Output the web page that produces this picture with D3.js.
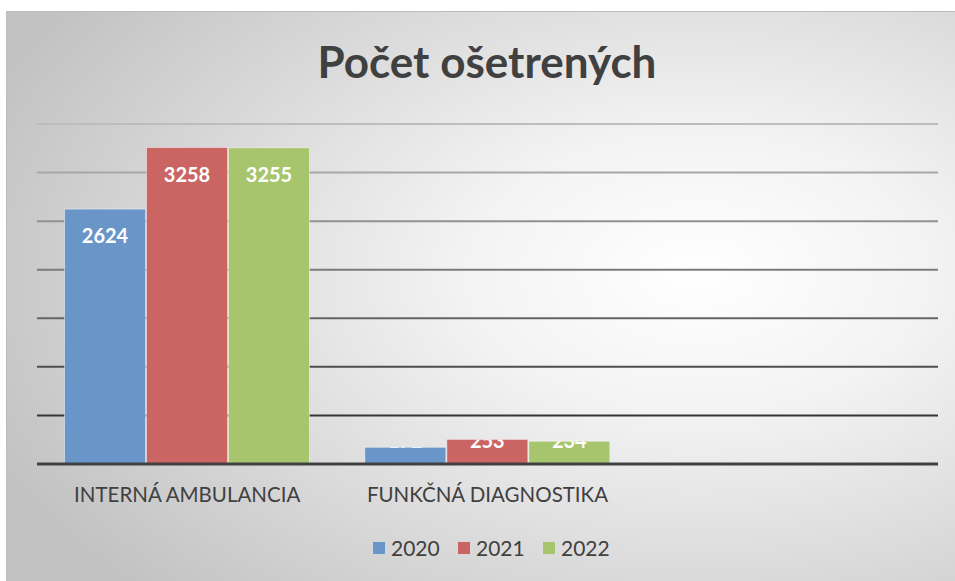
<!DOCTYPE html>
<html>
<head>
<meta charset="utf-8">
<script src="https://cdn.jsdelivr.net/npm/d3@7"></script>
<style>
  body { margin: 0; background: #fff; }
  text { font-family: Lato, "Open Sans", sans-serif; }
</style>
</head>
<body>
<svg class="chart" width="955" height="581"></svg>
<script>
// data
var categories = ['INTERNÁ AMBULANCIA', 'FUNKČNÁ DIAGNOSTIKA', ''];
var years = ['2020', '2021', '2022'];
var values2020 = [2624, 172, null];
var values2021 = [3258, 253, null];
var values2022 = [3255, 234, null];
var yTicks = [0, 500, 1000, 1500, 2000, 2500, 3000, 3500];

var colors = d3.scaleOrdinal().domain(years).range(['#6a95c9', '#cb6563', '#a7c56c']);

var series = [values2020, values2021, values2022];
var data = [];
categories.forEach(function(c, i) {
  years.forEach(function(yr, j) {
    if (series[j][i] != null) data.push({ cat: c, year: yr, value: series[j][i] });
  });
});

var svg = d3.select('.chart');
var defs = svg.append('defs');

var bg = defs.append('radialGradient').attr('id', 'bg')
    .attr('cx', '72%').attr('cy', '45%').attr('r', '80%');
bg.append('stop').attr('offset', '0').attr('stop-color', '#ffffff');
bg.append('stop').attr('offset', '0.3').attr('stop-color', '#f3f3f3');
bg.append('stop').attr('offset', '1').attr('stop-color', '#c2c2c2');

var plot = { left: 37, right: 938, top: 124, bottom: 464 };

var gl = defs.append('linearGradient').attr('id', 'gridgrad')
    .attr('gradientUnits', 'userSpaceOnUse')
    .attr('x1', 0).attr('x2', 0).attr('y1', plot.top).attr('y2', plot.bottom);
gl.append('stop').attr('offset', '0').attr('stop-color', '#bdbdbd');
gl.append('stop').attr('offset', '0.5').attr('stop-color', '#707070');
gl.append('stop').attr('offset', '1').attr('stop-color', '#1e1e1e');

// frame
svg.append('rect')
    .attr('x', 6.5).attr('y', 11.5).attr('width', 960).attr('height', 580)
    .attr('fill', 'url(#bg)').attr('stroke', '#bcbcbc');

// title
svg.append('text')
    .attr('x', 487).attr('y', 78)
    .attr('text-anchor', 'middle')
    .attr('font-size', 44).attr('font-weight', 'bold')
    .attr('fill', '#404040')
    .text('Počet ošetrených');

var x = d3.scaleBand().domain(categories).range([plot.left, plot.right]);
var xs = d3.scaleBand().domain(years).range([27, 273]);
var y = d3.scaleLinear().domain([0, 3500]).range([plot.bottom, plot.top]);

function barX(d) { return x(d.cat) + xs(d.year) + 0.5; }
function barH(d) { return plot.bottom - y(d.value); }

// gridlines
svg.append('g').selectAll('line')
  .data(yTicks.slice(1))
  .enter().append('line')
    .attr('x1', plot.left).attr('x2', plot.right)
    .attr('y1', function(d) { return y(d); })
    .attr('y2', function(d) { return y(d) + 0.01; })
    .attr('stroke', 'url(#gridgrad)')
    .attr('stroke-width', 2);

// bars
svg.append('g').selectAll('rect')
  .data(data)
  .enter().append('rect')
    .attr('x', barX)
    .attr('y', function(d) { return y(d.value); })
    .attr('width', xs.bandwidth() - 1)
    .attr('height', barH)
    .attr('fill', function(d) { return colors(d.year); })
    .attr('stroke', 'rgba(255,255,255,0.45)')
    .attr('stroke-width', 1);

// one clip per bar, so white labels only show on the bar
defs.selectAll('clipPath.bc')
  .data(data)
  .enter().append('clipPath')
    .attr('class', 'bc')
    .attr('id', function(d, i) { return 'bc' + i; })
  .append('rect')
    .attr('x', barX)
    .attr('y', function(d) { return y(d.value); })
    .attr('width', xs.bandwidth() - 1)
    .attr('height', barH);

// baseline
svg.append('line')
    .attr('x1', plot.left).attr('x2', plot.right)
    .attr('y1', y(0)).attr('y2', y(0))
    .attr('stroke', '#404040').attr('stroke-width', 3);

// value labels, inside end; on short bars they stick out above the bar
svg.append('g').selectAll('text')
  .data(data)
  .enter().append('text')
    .attr('clip-path', function(d, i) { return 'url(#bc' + i + ')'; })
    .attr('x', function(d) { return x(d.cat) + xs(d.year) + xs.bandwidth() / 2; })
    .attr('y', function(d) { return Math.min(y(d.value) + 34, plot.bottom - 16); })
    .attr('text-anchor', 'middle')
    .attr('font-size', 20).attr('font-weight', 'bold')
    .attr('fill', '#ffffff')
    .text(function(d) { return d.value; });

// category axis labels
var xAxis = d3.axisBottom(x).tickSize(0).tickPadding(0);
var ax = svg.append('g')
    .attr('transform', 'translate(0,' + plot.bottom + ')')
    .call(xAxis);
ax.select('.domain').remove();
ax.selectAll('text')
    .attr('dy', 0).attr('y', 38)
    .attr('font-size', 20.5)
    .attr('font-family', 'Lato, "Open Sans", sans-serif')
    .attr('fill', '#404040');

// legend
var legendX = d3.scalePoint().domain(years).range([373, 543]);
var lg = svg.append('g').selectAll('g')
  .data(years)
  .enter().append('g')
    .attr('transform', function(d) { return 'translate(' + legendX(d) + ',542)'; });
lg.append('rect')
    .attr('width', 12).attr('height', 12)
    .attr('fill', function(d) { return colors(d); });
lg.append('text')
    .attr('x', 18).attr('y', 14)
    .attr('font-size', 21)
    .attr('fill', '#404040')
    .text(function(d) { return d; });
</script>
</body>
</html>
